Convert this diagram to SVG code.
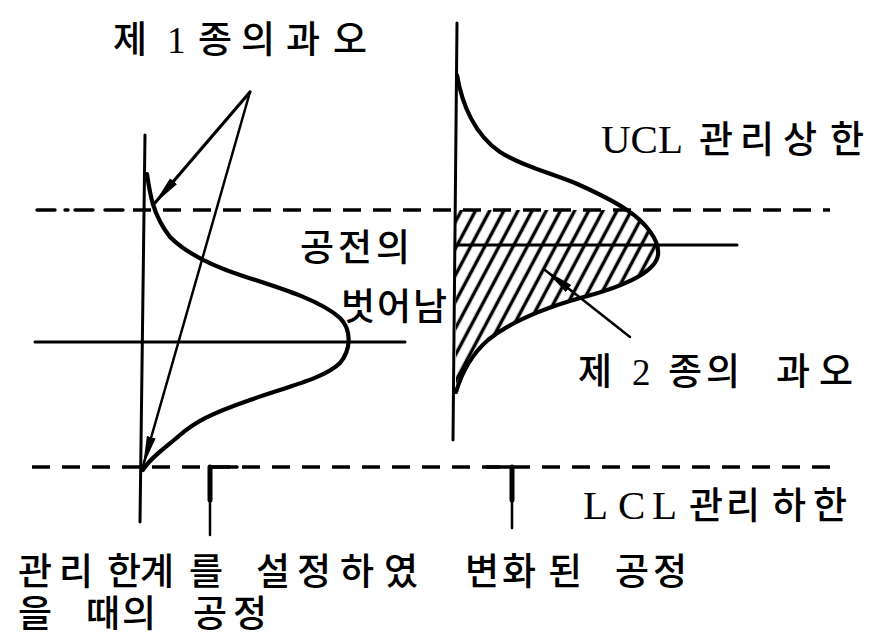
<svg xmlns="http://www.w3.org/2000/svg" width="881" height="638" viewBox="0 0 881 638">
<style>
.ln{fill:none;stroke:#000;stroke-linecap:round;stroke-linejoin:round}
.ax{stroke-width:3}
.cv{stroke-width:4.2}
.ds{stroke-width:3.4;stroke-dasharray:18 12;stroke-linecap:butt}
.t{font-family:'Liberation Serif','Noto Sans CJK KR',serif;font-size:37px;font-weight:500;fill:#000}
.lat{font-size:41px;font-weight:400}
</style>
<defs>
<marker id="ah" markerUnits="userSpaceOnUse" markerWidth="32" markerHeight="12" refX="30" refY="6" orient="auto">
<path d="M0,1.5 L30,6 L0,10.5 z" fill="#000"/>
</marker>
<pattern id="hatch" patternUnits="userSpaceOnUse" width="12.5" height="12.5" patternTransform="rotate(28)">
<line x1="6.25" y1="-2" x2="6.25" y2="15" stroke="#000" stroke-width="3.4"/>
</pattern>
<clipPath id="hclip">
<path d="M456,210 L627,210 C645,222 660,240 658,255 C656,270 630,285 580,298 C545,308 510,322 488,340 C472,354 462,372 456,392 Z"/>
</clipPath>
</defs>
<rect width="881" height="638" fill="#fff"/>

<g id="ucl-line">
<path class="ln" d="M37,210h18 M65,210h3 M75,210h18 M105,210h18" stroke-width="3.4" stroke-linecap="butt"/>
<line class="ln ds" x1="133" y1="210" x2="830" y2="210"/>
</g>
<g id="lcl-line">
<line class="ln ds" x1="32" y1="467" x2="836" y2="467"/>
</g>

<g id="left-distribution">
<line class="ln ax" x1="145" y1="135" x2="140" y2="522"/>
<line class="ln ax" x1="35" y1="342" x2="405" y2="342"/>
<path class="ln cv" d="M147,174 C150,195 153,215 170,237 C185,252 210,265 240,275 C280,288 320,300 340,318 C352,330 351,350 340,363 C325,378 290,386 250,400 C210,414 195,422 180,435 C165,448 150,458 143,470"/>
</g>

<g id="right-distribution">
<rect x="450" y="205" width="215" height="195" fill="url(#hatch)" clip-path="url(#hclip)"/>
<line class="ln ax" x1="457" y1="23" x2="453" y2="440"/>
<line class="ln ax" x1="457" y1="245" x2="737" y2="245"/>
<path class="ln cv" d="M457,75 C462,105 475,135 500,152 C522,166 548,172 575,183 C600,194 615,202 627,210 C645,222 660,240 658,255 C656,270 630,285 580,298 C545,308 510,322 488,340 C472,354 462,372 456,392"/>
</g>

<g id="process-ticks">
<path class="ln" d="M210,467 V535" stroke-width="2.5"/>
<path class="ln" d="M210,467 V500" stroke-width="5"/>
<path class="ln" d="M210,467 H237" stroke-width="3.4"/>
<path class="ln" d="M512,467 V528" stroke-width="2.5"/>
<path class="ln" d="M512,467 V500" stroke-width="5"/>
<path class="ln" d="M487,467 H512" stroke-width="3.4"/>
</g>

<g id="connectors">
<line class="ln" x1="250" y1="92" x2="154" y2="204" stroke-width="3.2" marker-end="url(#ah)"/>
<line class="ln" x1="250" y1="92" x2="143" y2="466" stroke-width="2.5" marker-end="url(#ah)"/>
<line class="ln" x1="630" y1="337" x2="545" y2="270" stroke-width="2.5" marker-end="url(#ah)"/>
</g>

<g id="label-type1">
<text class="t" y="53" x="113 150 167 198 241 286 333">제 1종의과오</text>
</g>
<g id="label-ucl">
<text class="t" y="153"><tspan class="lat" x="601">UCL </tspan><tspan x="699 740 783 830">관리상한</tspan></text>
</g>
<g id="label-shift">
<text class="t" y="261" x="300 338 376">공전의</text>
<text class="t" y="320" x="341 377 413">벗어남</text>
</g>
<g id="label-type2">
<text class="t" y="385" x="578 615 632 660 668 706 744 776 819">제 2 종의 과오</text>
</g>
<g id="label-lcl">
<text class="t" y="519"><tspan class="lat" x="583 618 652">LCL </tspan><tspan x="689 726 772 813">관리하한</tspan></text>
</g>
<g id="label-changed">
<text class="t" y="585" x="465 502 548 585 615 653">변화된 공정</text>
</g>
<g id="label-set">
<text class="t" y="585" x="18 59 107 140 189 225 256 297 340 384">관리한계를 설정하였</text>
<text class="t" y="627" x="18 54 86 122 160 193 233">을 때의 공정</text>
</g>
</svg>
